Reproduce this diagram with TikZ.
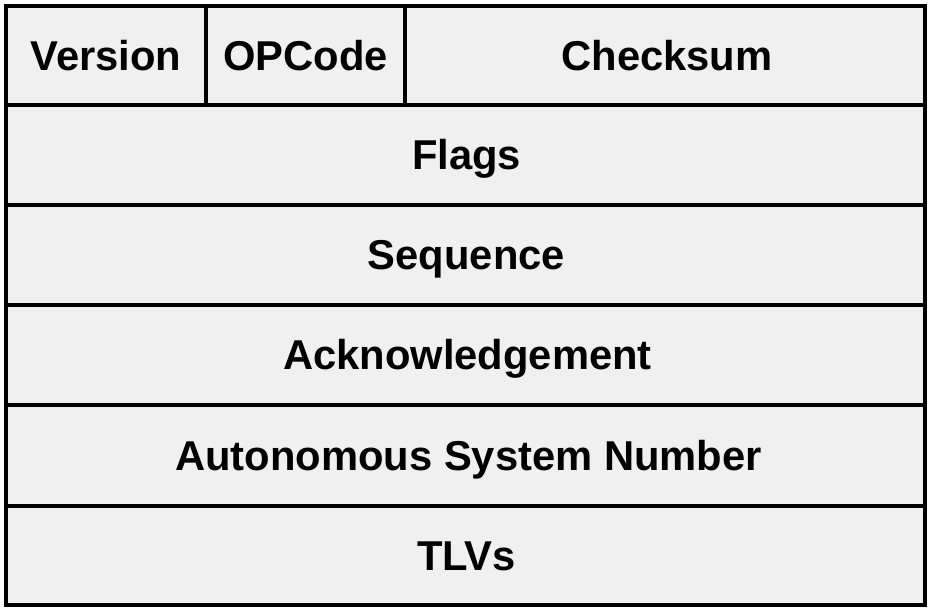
\documentclass[tikz,border=0pt]{standalone}
\usepackage{fontspec}
\setmainfont{Liberation Sans}
\begin{document}
\begin{tikzpicture}[x=0.75pt,y=-0.75pt,
  cellline/.style={line width=3pt,draw=black},
  label/.style={font=\fontsize{31.3}{33}\selectfont\bfseries,inner sep=0pt,
    text height=22.4pt,text depth=0pt,anchor=center}]
\useasboundingbox (0,0) rectangle (932,608);
% packet body
\fill[fill={rgb,255:red,240;green,240;blue,240}] (6,6) rectangle (925,605);
% row separators
\foreach \y in {105,205,305,405,506}
  \draw[cellline] (6,\y) -- (925,\y);
% first-row column separators
\draw[cellline] (206,6) -- (206,105);
\draw[cellline] (405,6) -- (405,105);
% outer border
\draw[cellline] (6,6) rectangle (925,605);
% field names
\node[label] (version) at (106,55.5) {Version};
\node[label] (opcode) at (305.5,55.5) {OPCode};
\node[label] (checksum) at (667,55.5) {Checksum};
\node[label] (flags) at (466.5,155) {Flags};
\node[label] (sequence) at (466.5,255) {Sequence};
\node[label] (ack) at (467.5,355) {Acknowledgement};
\node[label] (asn) at (468.5,455.5) {Autonomous System Number};
\node[label] (tlvs) at (466.5,555.5) {TLVs};
\end{tikzpicture}
\end{document}
